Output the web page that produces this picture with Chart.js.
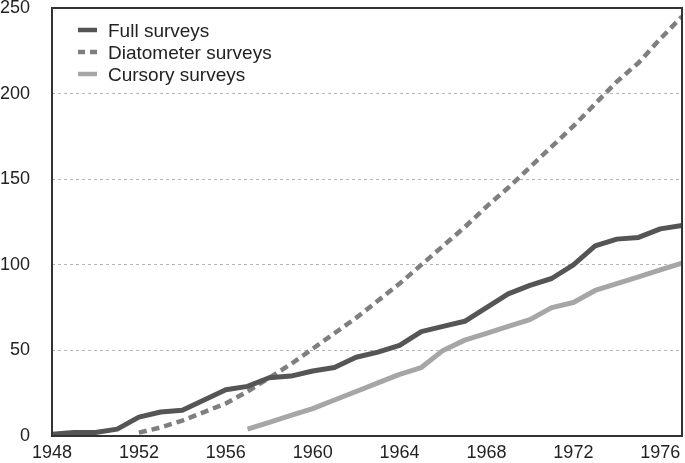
<!DOCTYPE html>
<html>
<head>
<meta charset="utf-8">
<script src="https://cdn.jsdelivr.net/npm/chart.js@4/dist/chart.umd.min.js"></script>
<style>
  html, body { margin: 0; padding: 0; background: #ffffff; }
  #wrap { width: 685px; height: 463px; }
</style>
</head>
<body>
<div id="wrap"><canvas id="c" width="685" height="463"></canvas></div>
<script>
const years = [1948,1949,1950,1951,1952,1953,1954,1955,1956,1957,1958,1959,1960,1961,1962,1963,1964,1965,1966,1967,1968,1969,1970,1971,1972,1973,1974,1975,1976,1977];
const fullSurveys = [1,2,2,4,11,14,15,21,27,29,34,35,38,40,46,49,53,61,64,67,75,83,88,92,100,111,115,116,121,123];
const diatometerSurveys = [null,null,null,null,2,5,9,14,19,26,34,42,51,60,69,79,89,100,111,122,134,145,157,169,181,194,207,218,232,245];
const cursorySurveys = [null,null,null,null,null,null,null,null,null,4,8,12,16,21,26,31,36,40,50,56,60,64,68,75,78,85,89,93,97,101];
const xTickLabels = [1948,1952,1956,1960,1964,1968,1972,1976];
const yTickLabels = [0,50,100,150,200,250];
const seriesNames = ['Full surveys','Diatometer surveys','Cursory surveys'];

const toPoints = arr => years.map((y,i) => arr[i] === null ? null : {x: y, y: arr[i]}).filter(p => p);

const FONT = '"Liberation Sans", Arial, Helvetica, sans-serif';

const frame = {
  id: 'frame',
  afterDatasetsDraw(chart) {
    const {ctx, chartArea: a} = chart;
    ctx.save();
    ctx.strokeStyle = '#333333';
    ctx.lineWidth = 2;
    ctx.strokeRect(a.left, a.top, a.right - a.left, a.bottom - a.top);
    ctx.restore();
  }
};

const legendBox = {
  id: 'legendBox',
  afterDraw(chart) {
    const {ctx} = chart;
    ctx.save();
    const rows = [30, 52, 74];
    chart.data.datasets.forEach((ds, i) => {
      const y = rows[i];
      ctx.strokeStyle = ds.borderColor;
      ctx.lineWidth = 4.5;
      ctx.setLineDash(ds.borderDash ? [7,5] : []);
      ctx.beginPath();
      ctx.moveTo(78, y);
      ctx.lineTo(97, y);
      ctx.stroke();
      ctx.setLineDash([]);
      ctx.fillStyle = '#222222';
      ctx.font = '19px ' + FONT;
      ctx.textBaseline = 'alphabetic';
      ctx.textAlign = 'left';
      ctx.fillText(ds.label, 108, y + 7);
    });
    ctx.restore();
  }
};

new Chart(document.getElementById('c'), {
  type: 'line',
  data: {
    datasets: [
      { label: seriesNames[0], data: toPoints(fullSurveys), borderColor: '#555555', borderWidth: 5, pointRadius: 0, tension: 0, borderJoinStyle: 'round' },
      { label: seriesNames[1], data: toPoints(diatometerSurveys), borderColor: '#7f7f7f', borderWidth: 4.5, borderDash: [8,5], pointRadius: 0, tension: 0 },
      { label: seriesNames[2], data: toPoints(cursorySurveys), borderColor: '#a6a6a6', borderWidth: 5, pointRadius: 0, tension: 0, borderJoinStyle: 'round' }
    ]
  },
  options: {
    responsive: false,
    animation: false,
    devicePixelRatio: 1,
    layout: { padding: { top: 8, right: 3, left: 0, bottom: 0 } },
    plugins: { legend: { display: false }, tooltip: { enabled: false } },
    scales: {
      x: {
        type: 'linear',
        min: 1948, max: 1977,
        afterBuildTicks: s => { s.ticks = xTickLabels.map(v => ({value: v})); },
        afterFit: s => { s.height = 27; s.paddingLeft = 0; s.paddingRight = 0; },
        grid: { display: false, drawTicks: false },
        border: { display: false },
        ticks: { padding: 6, color: '#222222', font: { family: FONT, size: 18 }, maxRotation: 0, autoSkip: false, callback: v => String(v) }
      },
      y: {
        min: 0, max: 250,
        afterBuildTicks: s => { s.ticks = yTickLabels.map(v => ({value: v})); },
        afterFit: s => { s.width = 52; s.paddingTop = 0; s.paddingBottom = 0; },
        grid: {
          drawTicks: false,
          lineWidth: 1,
          color: c => (c.tick && (c.tick.value === 0 || c.tick.value === 250)) ? 'rgba(0,0,0,0)' : '#b5b5b5'
        },
        border: { display: false, dash: [3,3] },
        ticks: { padding: 22, color: '#222222', font: { family: FONT, size: 18 }, callback: v => String(v) }
      }
    }
  },
  plugins: [frame, legendBox]
});
</script>
</body>
</html>
